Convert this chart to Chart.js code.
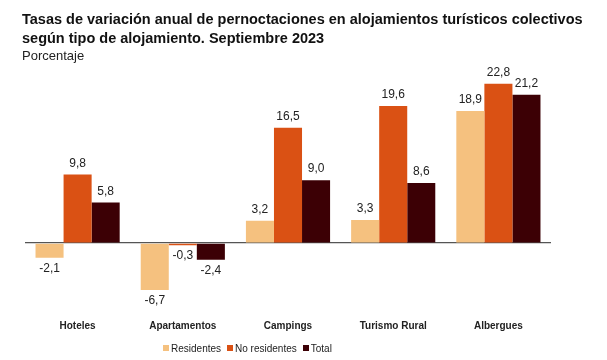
<!DOCTYPE html>
<html>
<head>
<meta charset="utf-8">
<script src="https://cdn.jsdelivr.net/npm/chart.js@4"></script>
<style>
  body { margin: 0; background: #fff; }
  #wrap { position: relative; width: 607px; height: 360px; }
  #barChart { display: block; }
  #legend { position: absolute; left: 163px; top: 343px; font: 10px 'Liberation Sans', Arial, sans-serif; color: #222; white-space: nowrap; }
  #legend span.item { margin-right: 6px; }
  #legend span.box { display: inline-block; width: 6px; height: 6px; margin-right: 2px; vertical-align: 1px; }
</style>
</head>
<body>
<div id="wrap">
  <canvas id="barChart" width="607" height="360"></canvas>
  <div id="legend"></div>
</div>
<script>
const categories = ["Hoteles", "Apartamentos", "Campings", "Turismo Rural", "Albergues"];
const residentes = [-2.1, -6.7, 3.2, 3.3, 18.9];
const noResidentes = [9.8, -0.3, 16.5, 19.6, 22.8];
const total = [5.8, -2.4, 9.0, 8.6, 21.2];
const seriesNames = ["Residentes", "No residentes", "Total"];
const seriesColors = ["#F5C17F", "#DA5114", "#3C0005"];

// value labels with decimal comma
const valueLabels = {
  id: "valueLabels",
  afterDatasetsDraw(chart) {
    const ctx = chart.ctx;
    ctx.save();
    ctx.font = "12px 'Liberation Sans', Arial, sans-serif";
    ctx.fillStyle = "#222";
    ctx.textAlign = "center";
    chart.data.datasets.forEach((ds, i) => {
      chart.getDatasetMeta(i).data.forEach((bar, j) => {
        const v = ds.data[j];
        const txt = v.toFixed(1).replace(".", ",");
        if (v >= 0) {
          ctx.textBaseline = "bottom";
          ctx.fillText(txt, bar.x, bar.y - 5);
        } else {
          ctx.textBaseline = "top";
          ctx.fillText(txt, bar.x, bar.y + 5);
        }
      });
    });
    ctx.restore();
  }
};

new Chart(document.getElementById("barChart").getContext("2d"), {
  type: "bar",
  data: {
    labels: categories,
    datasets: [
      { label: seriesNames[0], data: residentes, backgroundColor: seriesColors[0] },
      { label: seriesNames[1], data: noResidentes, backgroundColor: seriesColors[1] },
      { label: seriesNames[2], data: total, backgroundColor: seriesColors[2] },
    ],
  },
  options: {
    responsive: false,
    animation: false,
    layout: { padding: { left: 22, right: 0, bottom: 22 } },
    datasets: { bar: { categoryPercentage: 0.8, barPercentage: 1.0 } },
    plugins: {
      legend: { display: false },
      tooltip: { enabled: false },
      title: {
        display: true,
        align: "start",
        text: ["Tasas de variación anual de pernoctaciones en alojamientos turísticos colectivos",
               "según tipo de alojamiento. Septiembre 2023"],
        color: "#111",
        font: { family: "'Liberation Sans', Arial, sans-serif", size: 14.5, weight: "bold", lineHeight: 1.3 },
        padding: { top: 11, bottom: 0 },
      },
      subtitle: {
        display: true,
        align: "start",
        text: "Porcentaje",
        color: "#222",
        font: { family: "'Liberation Sans', Arial, sans-serif", size: 13, lineHeight: 1.2 },
        padding: { top: 0, bottom: 4 },
      },
    },
    scales: {
      x: {
        grid: { display: false },
        border: { display: false },
        ticks: {
          color: "#222",
          padding: 6,
          font: { family: "'Liberation Sans', Arial, sans-serif", size: 10, weight: "bold" },
        },
      },
      y: {
        min: -9,
        max: 25,
        border: { display: false },
        ticks: { display: false, stepSize: 1 },
        grid: {
          drawTicks: false,
          lineWidth: 1.3,
          color: (c) => (c.tick && c.tick.value === 0 ? "#555" : "rgba(0,0,0,0)"),
        },
        afterFit: (scale) => { scale.width = 3; },
      },
      // empty right-hand spacer so the title box keeps the full width
      spacer: {
        type: "linear",
        position: "right",
        display: true,
        border: { display: false },
        grid: { display: false, drawTicks: false },
        ticks: { display: false },
        afterFit: (scale) => { scale.width = 56; },
      },
    },
  },
  plugins: [valueLabels],
});

// legend
const legend = document.getElementById("legend");
seriesNames.forEach((name, i) => {
  const item = document.createElement("span");
  item.className = "item";
  const box = document.createElement("span");
  box.className = "box";
  box.style.background = seriesColors[i];
  item.appendChild(box);
  item.appendChild(document.createTextNode(name));
  legend.appendChild(item);
});
</script>
</body>
</html>
